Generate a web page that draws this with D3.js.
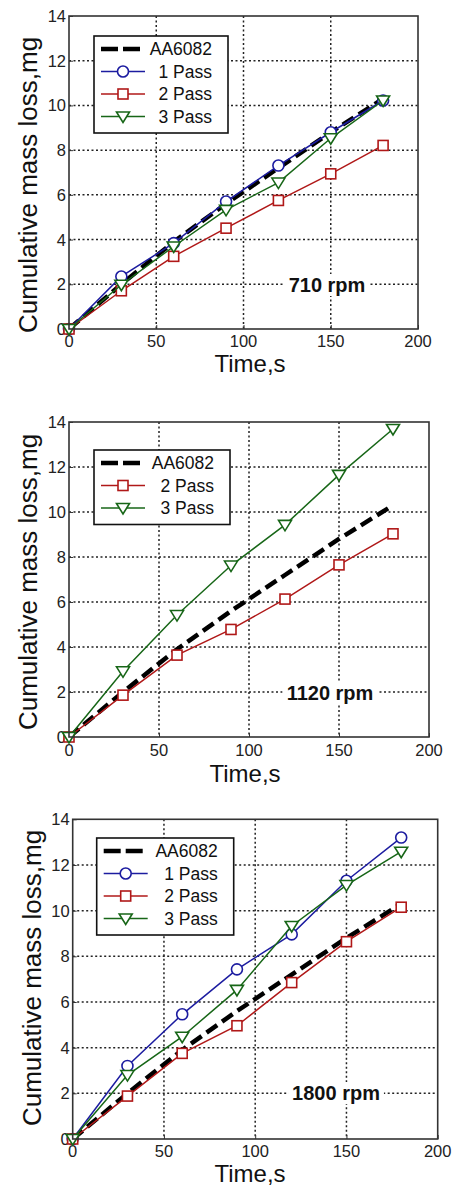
<!DOCTYPE html>
<html>
<head>
<meta charset="utf-8">
<script src="https://cdn.jsdelivr.net/npm/d3@7"></script>
<style>
  body { margin: 0; background: #fff; }
  svg { display: block; font-family: "Liberation Sans", Arial, sans-serif; }
</style>
</head>
<body>
<script>
// Time axis (s) - same sample times for every series
const times = [0, 30, 60, 90, 120, 150, 180];
const xTicks = [0, 50, 100, 150, 200];
const yTicks = [0, 2, 4, 6, 8, 10, 12, 14];

// base alloy reference curve (repeated on each panel)
const aa6082 = [0, 2.0, 3.9, 5.6, 7.2, 8.8, 10.3];

// 710 rpm
const pass1_710 = [0, 2.35, 3.84, 5.70, 7.31, 8.80, 10.22];
const pass2_710 = [0, 1.71, 3.25, 4.51, 5.75, 6.94, 8.21];
const pass3_710 = [0, 1.98, 3.69, 5.33, 6.55, 8.53, 10.22];

// 1120 rpm (no 1 Pass curve)
const pass2_1120 = [0, 1.86, 3.64, 4.78, 6.13, 7.65, 9.03];
const pass3_1120 = [0, 2.92, 5.42, 7.62, 9.43, 11.65, 13.69];

// 1800 rpm
const pass1_1800 = [0, 3.20, 5.46, 7.43, 8.96, 11.31, 13.20];
const pass2_1800 = [0, 1.88, 3.75, 4.96, 6.85, 8.64, 10.15];
const pass3_1800 = [0, 2.80, 4.48, 6.53, 9.33, 11.12, 12.58];

const STYLES = {
    base: {name: "AA6082", color: "#000", marker: null},
    p1: {name: "1 Pass", color: "#1c1ca0", marker: "circle"},
    p2: {name: "2 Pass", color: "#b01818", marker: "square"},
    p3: {name: "3 Pass", color: "#176617", marker: "triangle"}
};

const svg = d3.select("body").append("svg")
    .attr("width", 454)
    .attr("height", 1187);

function drawMarker(g, type, color, x, y) {
    if (type == "circle") {
        g.append("circle").attr("cx", x).attr("cy", y).attr("r", 5.5)
            .attr("fill", "#fff").attr("stroke", color).attr("stroke-width", 1.6);
    } else if (type == "square") {
        g.append("rect").attr("x", x - 5).attr("y", y - 5)
            .attr("width", 10).attr("height", 10)
            .attr("fill", "#fff").attr("stroke", color).attr("stroke-width", 1.6);
    } else if (type == "triangle") {
        // downward pointing, like matlab 'v'
        let p = [[x - 6.5, y - 4.5], [x + 6.5, y - 4.5], [x, y + 6]];
        g.append("path").attr("d", "M" + p.join("L") + "Z")
            .attr("fill", "#fff").attr("stroke", color).attr("stroke-width", 1.6);
    }
}

function drawPanel(cfg) {
    const x = d3.scaleLinear().domain([0, 200]).range([cfg.left, cfg.right]);
    const y = d3.scaleLinear().domain([0, 14]).range([cfg.bottom, cfg.top]);
    const g = svg.append("g");

    // dotted grid
    const grid = g.append("g")
        .attr("stroke", "#222").attr("stroke-width", 1.5)
        .attr("stroke-dasharray", "2,2.5");
    xTicks.slice(1, -1).forEach(t => {
        grid.append("line").attr("x1", x(t)).attr("x2", x(t))
            .attr("y1", cfg.top).attr("y2", cfg.bottom);
    });
    yTicks.slice(1, -1).forEach(t => {
        grid.append("line").attr("x1", cfg.left).attr("x2", cfg.right)
            .attr("y1", y(t)).attr("y2", y(t));
    });

    // axes - ticks point inwards, labels drawn separately
    const xAxis = d3.axisBottom(x).tickValues(xTicks).tickSize(-4).tickFormat("");
    const yAxis = d3.axisLeft(y).tickValues(yTicks).tickSize(-4).tickFormat("");
    g.append("g").attr("transform", "translate(0," + cfg.bottom + ")").call(xAxis)
        .call(s => s.select(".domain").remove())
        .selectAll("line").attr("stroke", "#333");
    g.append("g").attr("transform", "translate(" + cfg.left + ",0)").call(yAxis)
        .call(s => s.select(".domain").remove())
        .selectAll("line").attr("stroke", "#333");

    g.selectAll(".xt").data(xTicks).enter().append("text")
        .attr("x", d => x(d)).attr("y", cfg.xTickY)
        .attr("text-anchor", "middle")
        .attr("font-size", 16.5).attr("fill", "#222")
        .text(d => d);
    g.selectAll(".yt").data(yTicks).enter().append("text")
        .attr("x", cfg.left - 3).attr("y", d => y(d))
        .attr("text-anchor", "end").attr("dominant-baseline", "central")
        .attr("font-size", 16.5).attr("fill", "#222")
        .text(d => d);

    // axis titles
    g.append("text")
        .attr("x", cfg.xLabel[0]).attr("y", cfg.xLabel[1])
        .attr("text-anchor", "middle")
        .attr("font-size", 24).attr("fill", "#111")
        .text("Time,s");
    g.append("text")
        .attr("transform", "translate(" + cfg.yLabel[0] + "," + cfg.yLabel[1] + ") rotate(-90)")
        .attr("text-anchor", "middle").attr("dominant-baseline", "central")
        .attr("font-size", 26).attr("fill", "#111")
        .text("Cumulative mass loss,mg");

    // speed annotation with white background over the grid
    const ann = g.append("g");
    const annText = ann.append("text")
        .attr("x", cfg.annot[0]).attr("y", cfg.annot[1])
        .attr("text-anchor", "middle").attr("dominant-baseline", "central")
        .attr("font-size", 20).attr("font-weight", "bold").attr("fill", "#111")
        .text(cfg.rpm);
    const bb = annText.node().getBBox();
    ann.insert("rect", "text")
        .attr("x", bb.x - 4).attr("y", bb.y)
        .attr("width", bb.width + 8).attr("height", bb.height)
        .attr("fill", "#fff");

    const line = d3.line()
        .x((d, i) => x(times[i]))
        .y(d => y(d));

    cfg.series.forEach(s => {
        const st = STYLES[s.key];
        if (s.key == "base") {
            g.append("path").datum(s.values)
                .attr("d", line).attr("fill", "none")
                .attr("stroke", "#000").attr("stroke-width", 4.5)
                .attr("stroke-dasharray", "13,6");
        } else {
            g.append("path").datum(s.values)
                .attr("d", line).attr("fill", "none")
                .attr("stroke", st.color).attr("stroke-width", 1.5);
            s.values.forEach((v, i) => drawMarker(g, st.marker, st.color, x(times[i]), y(v)));
        }
    });

    // box
    g.append("rect")
        .attr("x", cfg.left).attr("y", cfg.top)
        .attr("width", cfg.right - cfg.left).attr("height", cfg.bottom - cfg.top)
        .attr("fill", "none").attr("stroke", "#333").attr("stroke-width", 1.6);

    // legend
    const lg = g.append("g").attr("transform", "translate(" + cfg.legend[0] + "," + cfg.legend[1] + ")");
    const n = cfg.series.length;
    lg.append("rect")
        .attr("width", cfg.legend[2]).attr("height", n * 22.5 + 7)
        .attr("fill", "#fff").attr("stroke", "#111").attr("stroke-width", 1.6);
    cfg.series.forEach((s, i) => {
        const st = STYLES[s.key];
        const ry = 13 + 22.5 * i;
        if (s.key == "base") {
            lg.append("line").attr("x1", 7).attr("x2", 51).attr("y1", ry).attr("y2", ry)
                .attr("stroke", "#000").attr("stroke-width", 4.5)
                .attr("stroke-dasharray", "17,5");
        } else {
            lg.append("line").attr("x1", 7).attr("x2", 51).attr("y1", ry).attr("y2", ry)
                .attr("stroke", st.color).attr("stroke-width", 1.5);
            drawMarker(lg, st.marker, st.color, 29, ry);
        }
        lg.append("text")
            .attr("x", cfg.legend[2] - 16).attr("y", ry)
            .attr("text-anchor", "end").attr("dominant-baseline", "central")
            .attr("font-size", 17.5).attr("fill", "#111")
            .text(st.name);
    });
}

drawPanel({
    left: 69, right: 418, top: 16, bottom: 329,
    xTickY: 347, xLabel: [250, 372], yLabel: [28, 185],
    annot: [327, 285], rpm: "710 rpm",
    legend: [94, 36, 134],
    series: [
        {key: "base", values: aa6082},
        {key: "p1", values: pass1_710},
        {key: "p2", values: pass2_710},
        {key: "p3", values: pass3_710}
    ]
});

drawPanel({
    left: 69, right: 429, top: 422, bottom: 737,
    xTickY: 756, xLabel: [245, 782], yLabel: [28, 582],
    annot: [330, 693], rpm: "1120 rpm",
    legend: [94, 450, 136],
    series: [
        {key: "base", values: aa6082},
        {key: "p2", values: pass2_1120},
        {key: "p3", values: pass3_1120}
    ]
});

drawPanel({
    left: 72.7, right: 437.7, top: 819.3, bottom: 1139,
    xTickY: 1157, xLabel: [250, 1182], yLabel: [32, 978],
    annot: [336, 1093], rpm: "1800 rpm",
    legend: [96.7, 838, 137],
    series: [
        {key: "base", values: aa6082},
        {key: "p1", values: pass1_1800},
        {key: "p2", values: pass2_1800},
        {key: "p3", values: pass3_1800}
    ]
});
</script>
</body>
</html>
